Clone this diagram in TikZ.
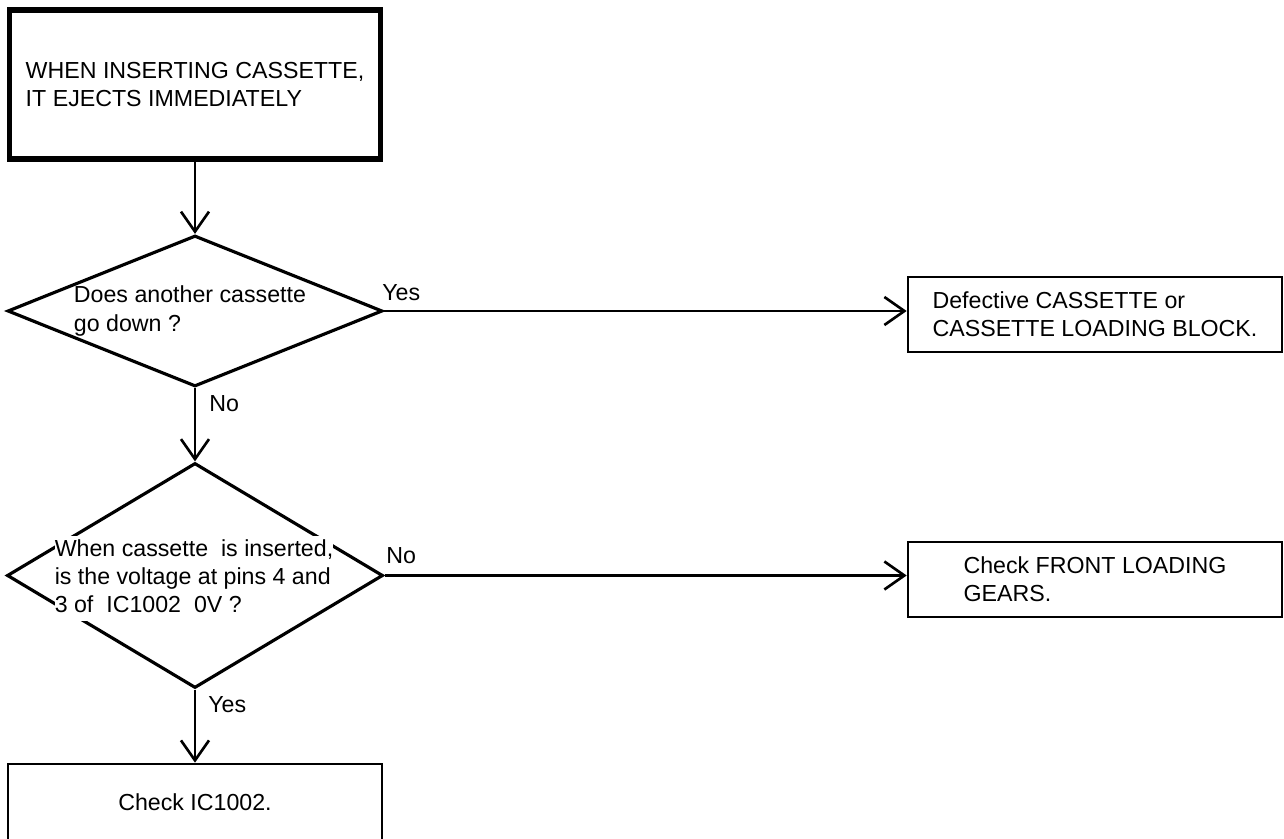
\documentclass[tikz,border=0pt]{standalone}
\usepackage{fontspec}
\setmainfont{Liberation Sans}
\usetikzlibrary{arrows.meta,shapes.geometric}
\newcommand{\wline}[1]{{\setlength{\fboxsep}{0pt}\colorbox{white}{\strut #1}}}

\begin{document}
\begin{tikzpicture}[
    font=\fontsize{13.2}{16}\selectfont,
    box/.style={draw, line width=1.5pt, minimum width=7.48cm, minimum height=1.5cm, align=left},
    ask/.style={draw, diamond, line width=1.8pt, inner sep=0pt},
    lbl/.style={anchor=base west, inner sep=0pt},
    flow/.style={-{Straight Barb[length=0.4cm, width=0.56cm]}, line width=1.5pt}
]
\useasboundingbox (0,0) rectangle (25.68,16.76);

\node[box, line width=3pt, minimum width=7.42cm, minimum height=2.98cm] (start) at (3.9,15.07) {WHEN INSERTING CASSETTE,\\ IT EJECTS IMMEDIATELY};
\node[ask, minimum width=7.5cm, minimum height=3.02cm] (d1) at (3.9,10.54) {};
\node[align=left] (q1) at (3.8,10.54) {Does another cassette\\ go down ?};
\node[ask, minimum width=7.52cm, minimum height=4.5cm] (d2) at (3.9,5.25) {};
\node[align=left, inner sep=0pt] (q2) at (3.88,5.19) {\wline{When cassette\ \ is inserted,}\\ \wline{is the voltage at pins 4 and}\\ \wline{3 of\ \ IC1002\ \ 0V ?}};
\node[box, align=center, minimum height=1.52cm] (fix) at (3.9,0.72) {Check IC1002.};
\node[box] (r1) at (21.9,10.47) {Defective CASSETTE or\\ CASSETTE LOADING BLOCK.};
\node[box] (r2) at (21.9,5.17) {Check FRONT LOADING\\ GEARS.};

\node[lbl] (yes1) at (7.64,10.74) {Yes};
\node[lbl] (no1) at (4.18,8.52) {No};
\node[lbl] (no2) at (7.72,5.50) {No};
\node[lbl] (yes2) at (4.16,2.52) {Yes};

\draw[flow] (start.south) -- (d1.north);
\draw[flow] (d1.south) -- (d2.north);
\draw[flow] (d2.south) -- (fix.north);
\draw[flow] (d1.east) -- (d1.east -| r1.west);
\draw[flow] (d2.east) -- (d2.east -| r2.west);
\end{tikzpicture}
\end{document}
